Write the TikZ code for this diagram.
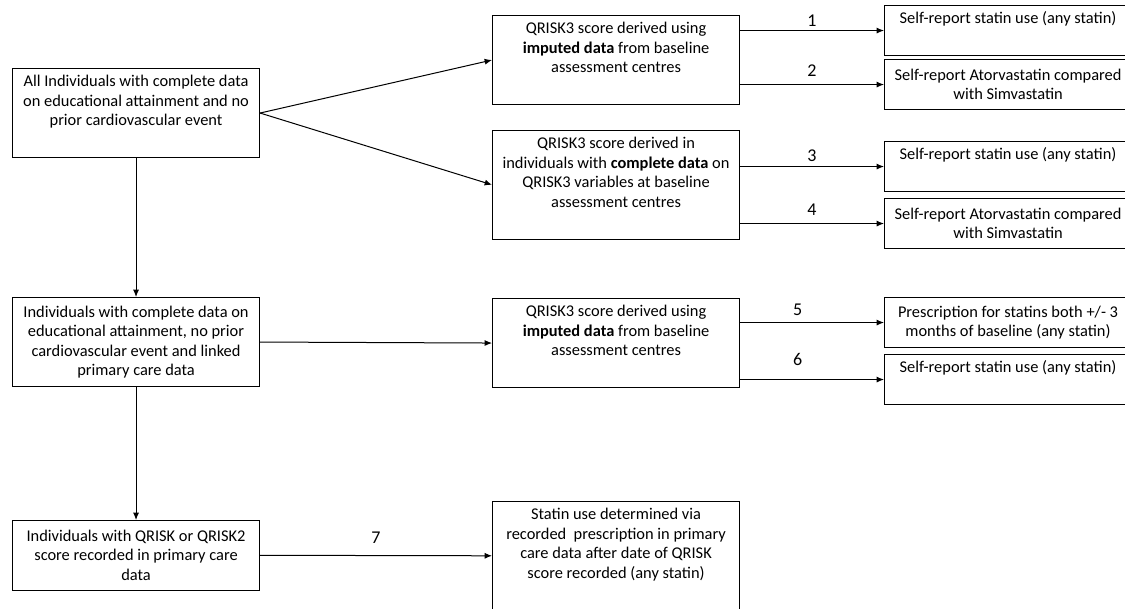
\documentclass[tikz,border=0pt]{standalone}
\usepackage{fontspec}
\setmainfont{Carlito}
\usetikzlibrary{arrows.meta}

\tikzset{
  box/.style={draw, line width=0.8pt, minimum width=185.25pt, align=center,
    inner sep=0pt, anchor=north west, font=\fontsize{12.3}{14.6}\selectfont},
  lines/.style={minimum height={#1*14.625pt+8.25pt}},
  num/.style={inner sep=0pt, font=\fontsize{13.5}{16}\selectfont},
  arr/.style={line width=0.75pt, -{Latex[length=5.5pt,width=4.5pt]}}
}

\begin{document}
\begin{tikzpicture}[x=0.75pt, y=-0.75pt]
    \path [use as bounding box, fill=white] (0,0) rectangle (1125,608);
    % cohorts
    \node [box, lines=4] (all) at (12,68) {All Individuals with complete data\\on educational attainment and no\\prior cardiovascular event\\\strut};
    \node [box, lines=4] (linked) at (12,297) {Individuals with complete data on\\educational attainment, no prior\\cardiovascular event and linked\\primary care data};
    \node [box, lines=3] (qrisk2) at (12,520) {Individuals with QRISK or QRISK2\\score recorded in primary care\\data};
    % risk scores
    \node [box, lines=4] (imp1) at (492,15) {QRISK3 score derived using\\\textbf{imputed data} from baseline\\assessment centres\\\strut};
    \node [box, lines=5] (cc) at (492,130) {QRISK3 score derived in\\individuals with \textbf{complete data} on\\QRISK3 variables at baseline\\assessment centres\\\strut};
    \node [box, lines=4] (imp2) at (492,298) {QRISK3 score derived using\\\textbf{imputed data} from baseline\\assessment centres\\\strut};
    \node [box, lines=5] (pc) at (492,501) {Statin use determined via\\recorded~ prescription in primary\\care data after date of QRISK\\score recorded (any statin)\\\strut};
    % outcomes
    \node [box, lines=2] (sr1) at (884,5) {Self-report statin use (any statin)\\\strut};
    \node [box, lines=2] (ator1) at (884,59) {Self-report Atorvastatin compared\\with Simvastatin};
    \node [box, lines=2] (sr2) at (884,141) {Self-report statin use (any statin)\\\strut};
    \node [box, lines=2] (ator2) at (884,198) {Self-report Atorvastatin compared\\with Simvastatin};
    \node [box, lines=2] (presc) at (884,297) {Prescription for statins both +/- 3\\months of baseline (any statin)};
    \node [box, lines=2] (sr3) at (884,354) {Self-report statin use (any statin)\\\strut};

    \draw [arr] (all.east) -- (imp1.west);
    \draw [arr] (all.east) -- (cc.west);
    \draw [arr] (all) -- (linked);
    \draw [arr] (linked) -- (qrisk2);
    \draw [arr] (linked.east) -- (imp2.west);
    \draw [arr] (qrisk2.east) -- node [num, above=9pt] {7} (pc.west);

    \draw [arr] (imp1.east |- sr1.west) -- node [num, above=3pt] {1} (sr1.west);
    \draw [arr] (imp1.east |- ator1.west) -- node [num, above=6pt] {2} (ator1.west);
    \draw [arr] (cc.east |- sr2.west) -- node [num, above=3pt] {3} (sr2.west);
    \draw [arr] (cc.east |- ator2.west) -- node [num, above=6pt] {4} (ator2.west);
    \draw [arr] (imp2.east |- presc.west) -- node [num, pos=0.4, above=5pt] {5} (presc.west);
    \draw [arr] (imp2.east |- sr3.west) -- node [num, pos=0.4, above=10pt] {6} (sr3.west);
\end{tikzpicture}
\end{document}
